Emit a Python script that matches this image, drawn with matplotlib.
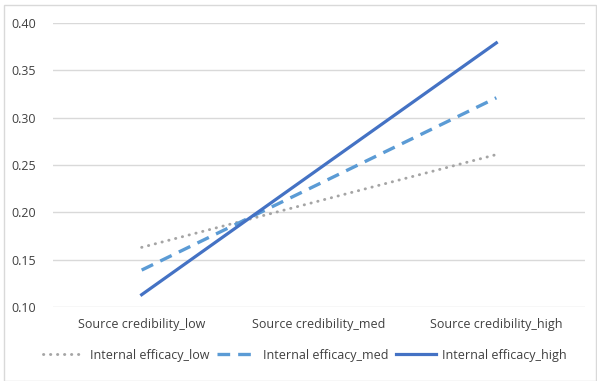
import numpy as np
import matplotlib.pyplot as plt
from matplotlib.patches import Rectangle

categories = ['Source credibility_low', 'Source credibility_med', 'Source credibility_high']
efficacy_low = [0.163, 0.212, 0.261]
efficacy_med = [0.139, 0.230, 0.321]
efficacy_high = [0.113, 0.246, 0.379]
yticks = [0.10, 0.15, 0.20, 0.25, 0.30, 0.35, 0.40]

plt.rcParams['font.family'] = ['Open Sans', 'DejaVu Sans']

fig = plt.figure(figsize=(5.97, 3.81), dpi=100)
ax = fig.add_axes([53/597, 74/381, 532/597, 284/381])

x = np.arange(len(categories))
ax.plot(x, efficacy_low, color='#A5A5A5', lw=2.1, ls=(0, (0.1, 2.3)), dash_capstyle='round', label='Internal efficacy_low')
ax.plot(x, efficacy_med, color='#5B9BD5', lw=2.4, ls=(0, (3.8, 2.4)), label='Internal efficacy_med')
ax.plot(x, efficacy_high, color='#4472C4', lw=2.3, label='Internal efficacy_high')

ax.set_xlim(-0.5, 2.5)
ax.set_ylim(0.10, 0.40)
ax.set_yticks(yticks)
ax.set_yticklabels([f'{v:.2f}' for v in yticks], fontsize=9, color='#404040')
ax.set_xticks(x)
ax.set_xticklabels(categories, fontsize=9, color='#404040')
ax.tick_params(length=0, pad=8)
ax.tick_params(axis='y', pad=12)
ax.grid(axis='y', color='#D9D9D9', lw=1)
ax.set_axisbelow(True)
for s in ax.spines.values():
    s.set_visible(False)

fig.legend(loc='center', bbox_to_anchor=(305/597, 1 - 355/381), ncol=3, frameon=False,
           fontsize=9, labelcolor='#404040', handlelength=3.2, handletextpad=0.5, columnspacing=0.6)

fig.patches.append(Rectangle((4/597, 0), 592/597, 1 - 5/381, transform=fig.transFigure,
                             fill=False, edgecolor='#D9D9D9', lw=1))

fig.savefig('out.png', dpi=100)
